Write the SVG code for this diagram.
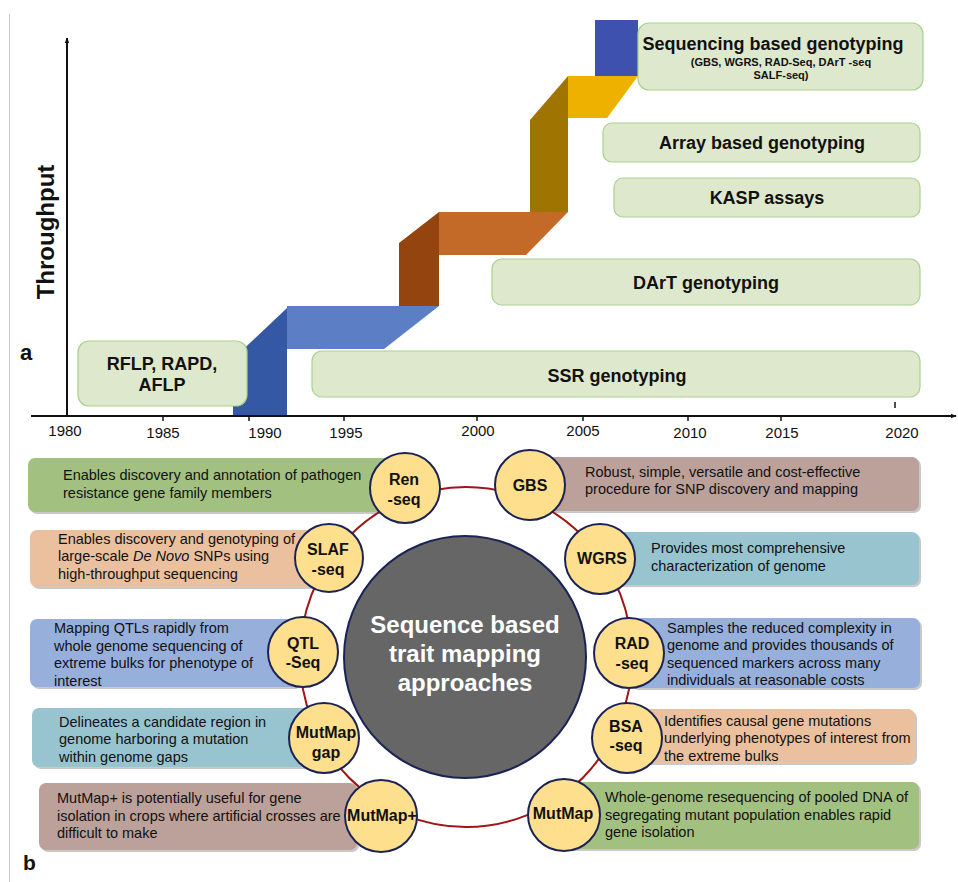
<svg xmlns="http://www.w3.org/2000/svg" width="958" height="882" viewBox="0 0 958 882">
<defs>
<marker id="arr" viewBox="0 0 10 10" refX="9" refY="5" markerWidth="6" markerHeight="6" orient="auto" markerUnits="userSpaceOnUse">
<path d="M0,1 L10,5 L0,9 Z" fill="#111"/>
</marker>
<style>
text{font-family:"Liberation Sans",Arial,sans-serif;fill:#111}
.yr{font-size:15px;text-anchor:middle}
.gbox{fill:#DEE8CD;stroke:#A9D18E;stroke-width:1.2}
.gt{font-size:18px;font-weight:bold;text-anchor:middle}
.sh{fill:#C9C9C9}
.desc{font-size:14.5px}
.c{fill:#FEDF8E;stroke:#1B2356;stroke-width:2}
.cl{font-size:16px;font-weight:bold;text-anchor:middle}
.ct{font-size:24px;font-weight:bold;text-anchor:middle;fill:#fff}
.tick{stroke:#111;stroke-width:1.5}
</style>
</defs>
<rect width="958" height="882" fill="#fff"/>
<line x1="9.5" y1="14" x2="9.5" y2="882" stroke="#C8C8C8" stroke-width="1"/>

<!-- Panel a -->
<g id="staircase">
<polygon points="233,416 287,416 287,308 233,359" fill="#3558A5"/>
<polygon points="287,306 439,306 384,349 287,349" fill="#5B7EC4"/>
<polygon points="399,306 439,306 439,212 399,243" fill="#94450F"/>
<polygon points="439,212 568,212 526,255 439,255" fill="#C46A28"/>
<polygon points="530,212 568,212 568,76 530,120" fill="#A07400"/>
<polygon points="568,76 638,76 607,118 568,118" fill="#EFB100"/>
<rect x="595" y="20" width="43" height="56" fill="#3F51AE"/>
</g>

<g id="axes">
<line x1="67" y1="416" x2="67" y2="38" stroke="#111" stroke-width="2" marker-end="url(#arr)"/>
<line x1="31" y1="416" x2="956" y2="416" stroke="#111" stroke-width="2" marker-end="url(#arr)"/>
<line class="tick" x1="163" y1="416" x2="163" y2="421"/>
<line class="tick" x1="249" y1="416" x2="249" y2="421"/>
<line class="tick" x1="344" y1="416" x2="344" y2="421"/>
<line class="tick" x1="477" y1="416" x2="477" y2="421"/>
<line class="tick" x1="583" y1="416" x2="583" y2="421"/>
<line class="tick" x1="688" y1="416" x2="688" y2="421"/>
<line class="tick" x1="781" y1="416" x2="781" y2="421"/>
<line class="tick" x1="895" y1="402" x2="895" y2="408"/>
<text class="yr" x="65" y="436">1980</text>
<text class="yr" x="163" y="438">1985</text>
<text class="yr" x="265" y="438">1990</text>
<text class="yr" x="346" y="438">1995</text>
<text class="yr" x="478" y="436">2000</text>
<text class="yr" x="583" y="436">2005</text>
<text class="yr" x="690" y="438">2010</text>
<text class="yr" x="782" y="438">2015</text>
<text class="yr" x="902" y="438">2020</text>
<text x="54" y="232" transform="rotate(-90 54 232)" style="font-size:24px;font-weight:bold;text-anchor:middle">Throughput</text>
<text x="20" y="360" style="font-size:22px;font-weight:bold">a</text>
</g>

<g id="rflp">
<rect class="gbox" x="78" y="341" width="169" height="65" rx="11"/>
<text class="gt" x="162" y="370">RFLP, RAPD,</text>
<text class="gt" x="162" y="391">AFLP</text>
</g>
<g id="ssr">
<rect class="gbox" x="312" y="351" width="608" height="46" rx="10"/>
<text class="gt" x="617" y="382">SSR genotyping</text>
</g>
<g id="dart">
<rect class="gbox" x="492" y="259" width="428" height="46" rx="10"/>
<text class="gt" x="706" y="289">DArT genotyping</text>
</g>
<g id="kasp">
<rect class="gbox" x="614" y="178" width="306" height="39" rx="9"/>
<text class="gt" x="767" y="204">KASP assays</text>
</g>
<g id="array">
<rect class="gbox" x="603" y="123" width="317" height="39" rx="9"/>
<text class="gt" x="762" y="149">Array based genotyping</text>
</g>
<g id="seq">
<rect class="gbox" x="638" y="23" width="285" height="67" rx="11"/>
<text class="gt" x="773" y="50">Sequencing based genotyping</text>
<text x="781" y="66" style="font-size:11px;font-weight:bold;text-anchor:middle">(GBS, WGRS, RAD-Seq, DArT -seq</text>
<text x="781" y="79" style="font-size:11px;font-weight:bold;text-anchor:middle">SALF-seq)</text>
</g>

<!-- Panel b -->
<g id="desc-boxes">
<rect class="sh" x="30" y="460" width="372" height="54" rx="7"/>
<rect x="28" y="458" width="372" height="54" rx="7" fill="#A2C181"/>
<rect class="sh" x="32" y="532" width="290" height="57" rx="7"/>
<rect x="30" y="530" width="290" height="57" rx="7" fill="#EAC09E"/>
<rect class="sh" x="32" y="621" width="270" height="68" rx="7"/>
<rect x="30" y="619" width="270" height="68" rx="7" fill="#97AFDB"/>
<rect class="sh" x="34" y="710" width="278" height="59" rx="7"/>
<rect x="32" y="708" width="278" height="59" rx="7" fill="#97C4CF"/>
<rect class="sh" x="41" y="785" width="318" height="67" rx="7"/>
<rect x="39" y="783" width="318" height="67" rx="7" fill="#BCA09A"/>

<rect class="sh" x="532" y="459" width="389" height="54" rx="7"/>
<rect x="530" y="457" width="389" height="54" rx="7" fill="#BCA09A"/>
<rect class="sh" x="602" y="534" width="319" height="53" rx="7"/>
<rect x="600" y="532" width="319" height="53" rx="7" fill="#97C4CF"/>
<rect class="sh" x="632" y="620" width="290" height="70" rx="7"/>
<rect x="630" y="618" width="290" height="70" rx="7" fill="#97AFDB"/>
<rect class="sh" x="629" y="711" width="288" height="54" rx="7"/>
<rect x="627" y="709" width="288" height="54" rx="7" fill="#EAC09E"/>
<rect class="sh" x="566" y="784" width="355" height="67" rx="7"/>
<rect x="564" y="782" width="355" height="67" rx="7" fill="#A2C181"/>
</g>

<g id="desc-text" class="desc">
<text class="desc" x="63" y="480">Enables discovery and annotation of pathogen</text>
<text class="desc" x="63" y="498">resistance gene family members</text>
<text class="desc" x="58" y="544">Enables discovery and genotyping of</text>
<text class="desc" x="58" y="561">large-scale <tspan font-style="italic">De Novo</tspan> SNPs using</text>
<text class="desc" x="58" y="579">high-throughput sequencing</text>
<text class="desc" x="54" y="633">Mapping QTLs rapidly from</text>
<text class="desc" x="54" y="651">whole genome sequencing of</text>
<text class="desc" x="54" y="668">extreme bulks for phenotype of</text>
<text class="desc" x="54" y="686">interest</text>
<text class="desc" x="59" y="727">Delineates a candidate region in</text>
<text class="desc" x="59" y="744">genome harboring a mutation</text>
<text class="desc" x="59" y="762">within genome gaps</text>
<text class="desc" x="57" y="803">MutMap+ is potentially useful for gene</text>
<text class="desc" x="57" y="821">isolation in crops where artificial crosses are</text>
<text class="desc" x="57" y="838">difficult to make</text>

<text class="desc" x="585" y="477">Robust, simple, versatile and cost-effective</text>
<text class="desc" x="585" y="494">procedure for SNP discovery and mapping</text>
<text class="desc" x="651" y="553">Provides most comprehensive</text>
<text class="desc" x="651" y="571">characterization of genome</text>
<text class="desc" x="667" y="633">Samples the reduced complexity in</text>
<text class="desc" x="667" y="650">genome and provides thousands of</text>
<text class="desc" x="667" y="668">sequenced markers across many</text>
<text class="desc" x="667" y="685">individuals at reasonable costs</text>
<text class="desc" x="664" y="726">Identifies causal gene mutations</text>
<text class="desc" x="664" y="743">underlying phenotypes of interest from</text>
<text class="desc" x="664" y="761">the extreme bulks</text>
<text class="desc" x="605" y="802">Whole-genome resequencing of pooled DNA of</text>
<text class="desc" x="605" y="820">segregating mutant population enables rapid</text>
<text class="desc" x="605" y="837">gene isolation</text>
</g>

<g id="connectors">
<ellipse cx="466" cy="657" rx="166" ry="170" fill="none" stroke="#A01515" stroke-width="2"/>
</g>

<g id="center">
<circle cx="465" cy="657" r="121" fill="#666666" stroke="#1B2356" stroke-width="2"/>
<text class="ct" x="465" y="633">Sequence based</text>
<text class="ct" x="465" y="662">trait mapping</text>
<text class="ct" x="465" y="691">approaches</text>
</g>

<g id="ren-seq"><circle class="c" cx="405" cy="488" r="35"/><text class="cl" x="404" y="485">Ren</text><text class="cl" x="404" y="505">-seq</text></g>
<g id="slaf-seq"><circle class="c" cx="329" cy="558" r="34"/><text class="cl" x="328" y="555">SLAF</text><text class="cl" x="328" y="575">-seq</text></g>
<g id="qtl-seq"><circle class="c" cx="303" cy="652" r="35"/><text class="cl" x="303" y="649">QTL</text><text class="cl" x="303" y="668">-Seq</text></g>
<g id="mutmap-gap"><circle class="c" cx="324" cy="738" r="35"/><text class="cl" x="326" y="738">MutMap</text><text class="cl" x="326" y="758">gap</text></g>
<g id="mutmap-plus"><circle class="c" cx="381" cy="816" r="36"/><text class="cl" x="382" y="821">MutMap+</text></g>
<g id="gbs"><circle class="c" cx="530" cy="485" r="35"/><text class="cl" x="530" y="491">GBS</text></g>
<g id="wgrs"><circle class="c" cx="600" cy="559" r="35"/><text class="cl" x="602" y="564">WGRS</text></g>
<g id="rad-seq"><circle class="c" cx="629" cy="653" r="35"/><text class="cl" x="632" y="649">RAD</text><text class="cl" x="632" y="669">-seq</text></g>
<g id="bsa-seq"><circle class="c" cx="627" cy="738" r="35"/><text class="cl" x="626" y="732">BSA</text><text class="cl" x="626" y="751">-seq</text></g>
<g id="mutmap"><circle class="c" cx="564" cy="815" r="36"/><text class="cl" x="563" y="819">MutMap</text></g>

<text x="23" y="870" style="font-size:21px;font-weight:bold">b</text>
</svg>
